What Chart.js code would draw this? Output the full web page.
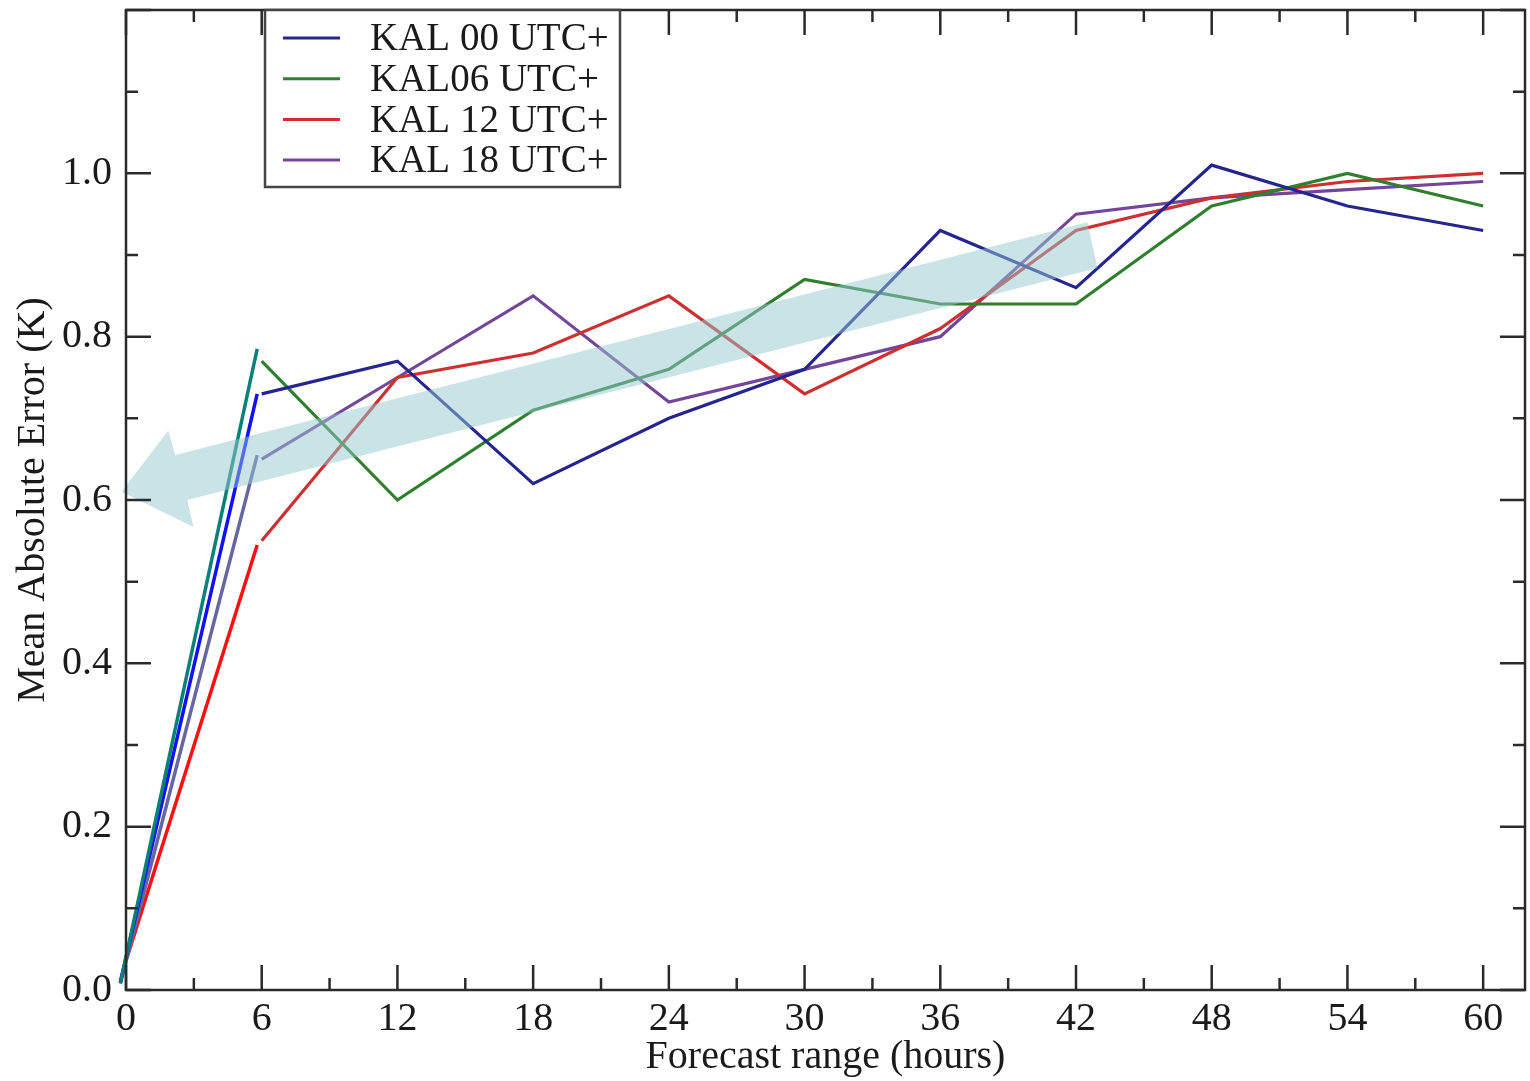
<!DOCTYPE html>
<html>
<head>
<meta charset="utf-8">
<script src="https://cdn.jsdelivr.net/npm/chart.js@4/dist/chart.umd.min.js"></script>
<style>
  html, body { margin: 0; padding: 0; background: #fff; }
  canvas { display: block; }
</style>
</head>
<body>
<canvas id="chart" width="1530" height="1081"></canvas>
<script>
// forecast range (hours) and mean absolute error (K) per run
const hours = [6, 12, 18, 24, 30, 36, 42, 48, 54, 60]
const kal00 = [0.73, 0.77, 0.62, 0.70, 0.76, 0.93, 0.86, 1.01, 0.96, 0.93]
const kal06 = [0.77, 0.60, 0.71, 0.76, 0.87, 0.84, 0.84, 0.96, 1.00, 0.96]
const kal12 = [0.55, 0.75, 0.78, 0.85, 0.73, 0.81, 0.93, 0.97, 0.99, 1.00]
const kal18 = [0.65, 0.75, 0.85, 0.72, 0.76, 0.80, 0.95, 0.97, 0.98, 0.99]

// hand-drawn lines from the origin up to the 6 h values
const sketchX = [-0.25, 5.8]
const sketchRedX = [0.05, 5.8]
const sketchTeal = [0.008, 0.785]
const sketchBlue = [0.01, 0.73]
const sketchSlate = [0.008, 0.655]
const sketchRed = [0.04, 0.545]

// translucent arrow overlay, in data units (hours, K)
const arrowX = [-0.2, 1.87, 2.17, 42.5, 42.95, 2.71, 2.98]
const arrowY = [0.61, 0.685, 0.655, 0.94, 0.884, 0.600, 0.567]

const xTicks = [0, 6, 12, 18, 24, 30, 36, 42, 48, 54, 60]
const yTicks = [0, 0.2, 0.4, 0.6, 0.8, 1.0]

const serif = "'Liberation Serif', 'Times New Roman', serif"
const ink = "#1a1a1a"

const pts = (xs, ys) => xs.map((v, i) => ({ x: v, y: ys[i] }))

function series(label, ys, color) {
  return { label, data: pts(hours, ys), borderColor: color, borderWidth: 3.2, pointRadius: 0, tension: 0 }
}
function sketch(xs, ys, color) {
  return { label: "", data: pts(xs, ys), borderColor: color, borderWidth: 3.5, pointRadius: 0, clip: false, sketch: true }
}

const overlay = {
  id: "overlay",
  afterDatasetsDraw(chart) {
    const { ctx, scales: { x, y } } = chart
    ctx.save()
    ctx.beginPath()
    arrowX.forEach((v, i) => {
      const px = x.getPixelForValue(v), py = y.getPixelForValue(arrowY[i])
      i ? ctx.lineTo(px, py) : ctx.moveTo(px, py)
    })
    ctx.closePath()
    ctx.fillStyle = "rgba(150, 200, 208, 0.5)"
    ctx.fill()
    ctx.restore()
  },
  afterDraw(chart) {
    const { ctx, chartArea: a, scales: { x, y } } = chart
    ctx.save()
    ctx.strokeStyle = "#2a2a2a"
    ctx.lineWidth = 2.5
    // inward ticks on all four sides
    for (let h = 0; h <= 60; h += 3) {
      const px = x.getPixelForValue(h)
      const len = h % 6 === 0 ? 25 : 12
      ctx.beginPath()
      ctx.moveTo(px, a.bottom); ctx.lineTo(px, a.bottom - len)
      ctx.moveTo(px, a.top); ctx.lineTo(px, a.top + len)
      ctx.stroke()
    }
    for (let k = 0; k <= 12; k++) {
      const py = y.getPixelForValue(k / 10)
      const len = k % 2 === 0 ? 25 : 12
      ctx.beginPath()
      ctx.moveTo(a.left, py); ctx.lineTo(a.left + len, py)
      ctx.moveTo(a.right, py); ctx.lineTo(a.right - len, py)
      ctx.stroke()
    }
    ctx.strokeRect(a.left, a.top, a.right - a.left, a.bottom - a.top)

    // legend box
    const lx = 265, ly = a.top, lw = 355, lh = 177
    ctx.fillStyle = "#fff"
    ctx.fillRect(lx, ly, lw, lh)
    ctx.strokeStyle = "#444"
    ctx.lineWidth = 2.5
    ctx.strokeRect(lx, ly, lw, lh)
    ctx.font = "39px " + serif
    ctx.textBaseline = "middle"
    ctx.fillStyle = ink
    chart.data.datasets.filter(d => !d.sketch).forEach((d, i) => {
      const ry = ly + 28 + i * 40.7
      ctx.strokeStyle = d.borderColor
      ctx.lineWidth = 3
      ctx.beginPath(); ctx.moveTo(lx + 18, ry); ctx.lineTo(lx + 75, ry); ctx.stroke()
      ctx.fillText(d.label, lx + 105, ry + 2)
    })
    ctx.restore()
  }
}

new Chart(document.getElementById("chart"), {
  type: "line",
  data: {
    datasets: [
      series("KAL 00 UTC+", kal00, "#25258f"),
      series("KAL06 UTC+", kal06, "#2f7f2f"),
      series("KAL 12 UTC+", kal12, "#cc3030"),
      series("KAL 18 UTC+", kal18, "#74469a"),
      sketch(sketchX, sketchTeal, "#0a8078"),
      sketch(sketchX, sketchBlue, "#1010ff"),
      sketch(sketchX, sketchSlate, "#6666a0"),
      sketch(sketchRedX, sketchRed, "#ff1010")
    ]
  },
  options: {
    responsive: false,
    devicePixelRatio: 1,
    animation: false,
    layout: { padding: { top: 10, right: 5, left: 0, bottom: 0 } },
    plugins: { legend: { display: false }, tooltip: { enabled: false } },
    scales: {
      x: {
        type: "linear",
        min: 0,
        max: 61.85,
        afterBuildTicks: (s) => { s.ticks = xTicks.map((v) => ({ value: v })) },
        afterFit: (s) => { s.height = 91; s.paddingLeft = 0; s.paddingRight = 0 },
        grid: { display: false, drawTicks: false },
        border: { display: false },
        ticks: { color: ink, font: { family: serif, size: 40 }, padding: 5, maxRotation: 0 },
        title: { display: true, text: "Forecast range (hours)", color: ink, font: { family: serif, size: 40 }, padding: { top: 0, bottom: 0 } }
      },
      y: {
        min: 0,
        max: 1.2,
        afterBuildTicks: (s) => { s.ticks = yTicks.map((v) => ({ value: v })) },
        afterFit: (s) => { s.width = 126; s.paddingTop = 0; s.paddingBottom = 0 },
        grid: { display: false, drawTicks: false },
        border: { display: false },
        ticks: { color: ink, font: { family: serif, size: 40 }, padding: 14, callback: (v) => v.toFixed(1) },
        title: { display: true, text: "Mean Absolute Error (K)", color: ink, font: { family: serif, size: 40 }, padding: { top: 9, bottom: 0 } }
      }
    }
  },
  plugins: [overlay]
})
</script>
</body>
</html>
